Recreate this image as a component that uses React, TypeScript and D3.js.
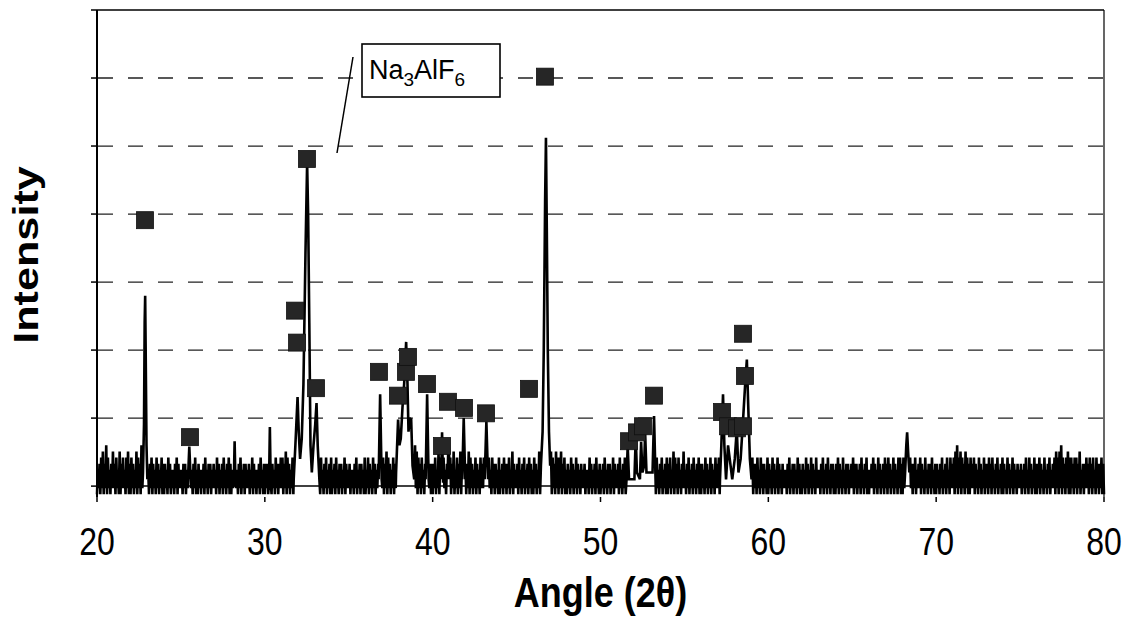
import React from 'react';
import * as d3 from 'd3';

const W = 1135;
const H = 623;

const xTicks = [20, 30, 40, 50, 60, 70, 80];
const yTicks = [0, 100, 200, 300, 400, 500, 600, 700];
const gridValues = [100, 200, 300, 400, 500, 600];

// background noise, one string per degree, 0.05 deg step, digit d -> -12 + 9d
const noiseStart = 20;
const noiseStep = 0.05;
const noiseRows = [
  '04150617051806140517', '15061407051614061705', '06150417061508140516', '14051605140615041605',
  '05140615041405160514', '14051504160514051604', '05140415061405150415', '14061504150614051605',
  '04150614051604150514', '15041605140415061405', '05150416051406150516', '16051706150416071506',
  '06170516071608170615', '17061506140516041506', '04150614051504160514', '15041405160415051406',
  '04160514061504150615', '16051706150416051704', '06170516071607160518', '17061506140516061505',
  '05160417061506140517', '16051704160517061405', '05170615041605140615', '16041506140615051406',
  '04150615051604170514', '15061405160415061504', '06150417061506170516', '17061507160617051604',
  '05140615041605140514', '15041406150415061405', '04150614051504160514', '15061405160415061405',
  '06170516071607160518', '16071506140516041506', '05160417061506140517', '14051604150614051605',
  '05140615041605140615', '16071605170615061706', '06170516061507160615', '16051506140615051406',
  '05140615041605140514', '14051604150514061504', '05140615041605140614', '14051604150614051504',
  '05160514061405150415', '16051504150614051604', '04151605140615041506', '15061504160514061605',
  '06171607061505160415', '16051406140515061405', '05140516041506140615', '16071806170615071605',
  '06151605140615041605', '15061506140516041506', '05140615041605140514', '15041506140615041605',
  '05160514061405160415', '16071607180615061706', '06150616051704150516', '15061506140615051605',
  '0',
];

// diffraction peaks: [angle, intensity] points
const peakProfiles: [number, number][][] = [
  [[22.74, 20], [22.8, 90], [22.84, 240], [22.87, 280], [22.9, 200], [22.95, 60], [23.0, 10]],
  [[25.42, 10], [25.5, 58], [25.58, 10]],
  [[28.15, 5], [28.2, 66], [28.25, 5]],
  [[30.25, 5], [30.3, 87], [30.35, 5]],
  [[31.72, 10], [31.82, 60], [31.95, 131], [32.02, 80], [32.1, 40], [32.2, 70], [32.3, 150], [32.42, 340],
   [32.52, 475], [32.58, 400], [32.65, 240], [32.72, 60], [32.8, 20], [32.9, 60], [33.0, 90], [33.08, 122],
   [33.15, 60], [33.25, 10]],
  [[36.78, 10], [36.87, 135], [36.96, 10]],
  [[37.82, 20], [37.94, 98], [38.02, 60], [38.1, 70], [38.2, 115], [38.3, 150], [38.42, 212], [38.5, 150],
   [38.56, 80], [38.64, 100], [38.72, 98], [38.8, 30], [38.9, 10]],
  [[39.58, 10], [39.67, 135], [39.76, 10]],
  [[40.5, 10], [40.56, 79], [40.62, 5]],
  [[40.88, 10], [40.95, 70], [41.02, 10]],
  [[41.76, 10], [41.85, 100], [41.94, 10]],
  [[43.1, 10], [43.2, 95], [43.3, 10]],
  [[46.45, 30], [46.55, 80], [46.62, 200], [46.7, 420], [46.75, 512], [46.8, 380], [46.86, 200],
   [46.93, 80], [47.0, 30]],
  [[51.55, 10], [51.62, 59], [51.7, 10], [52.02, 10], [52.1, 73], [52.17, 20], [52.35, 10], [52.42, 65],
   [52.5, 20], [52.6, 30], [52.66, 78], [52.74, 20], [53.1, 20], [53.19, 103], [53.28, 10]],
  [[57.12, 10], [57.2, 60], [57.3, 135], [57.38, 60], [57.48, 10], [57.6, 60], [57.7, 40], [57.85, 10],
   [58.0, 40], [58.12, 84], [58.22, 20], [58.35, 40], [58.5, 100], [58.62, 150], [58.72, 186],
   [58.8, 120], [58.9, 40], [59.0, 10]],
  [[68.15, 20], [68.22, 60], [68.27, 79], [68.33, 50], [68.4, 20]],
];

// reference markers (Na3AlF6 lines)
const markerAngles = [22.86, 25.54, 31.8, 31.92, 32.51, 33.05, 36.8, 37.93, 38.41, 38.53, 39.66, 40.56,
  40.91, 41.87, 43.18, 45.74, 46.69, 51.7, 52.17, 52.53, 53.19, 57.24, 57.6, 58.13, 58.49, 58.61, 58.49];
const markerValues = [391, 72, 258, 211, 481, 144, 168, 133, 168, 190, 150, 59,
  124, 115, 107, 143, 602, 66, 79, 88, 133, 109, 88, 85, 88, 162, 224];

const xLabel = 'Angle (2θ)';
const yLabel = 'Intensity';

function buildSeries(): [number, number][] {
  const digits = noiseRows.join('');
  const ranges = peakProfiles.map((p) => [p[0][0], p[p.length - 1][0]]);
  const pts: [number, number][] = [];
  for (let i = 0; i < digits.length; i++) {
    const a = noiseStart + i * noiseStep;
    const inside = ranges.some(([lo, hi]) => a >= lo - 1e-9 && a <= hi + 1e-9);
    if (!inside) pts.push([a, -12 + 9 * Number(digits[i])]);
  }
  peakProfiles.forEach((p) => p.forEach((q) => pts.push(q)));
  pts.sort((a, b) => a[0] - b[0]);
  return pts;
}

export default function App() {
  const x = d3.scaleLinear().domain([20, 80]).range([97, 1104]);
  const y = d3.scaleLinear().domain([-16, 700]).range([497, 10]);
  const series = buildSeries();
  const line = d3.line<[number, number]>().x((d) => x(d[0])).y((d) => y(d[1]));
  const ms = 17;
  const font = 'Arial, "Liberation Sans", sans-serif';
  const sy = 1.2;

  return (
    <svg width={W} height={H} style={{ position: 'absolute', left: 0, top: 0, background: '#fff' }}
      fontFamily={font}>
      <rect x={0} y={0} width={W} height={H} fill="#fff" />
      {gridValues.map((v) => (
        <line key={v} x1={x(20) + 1} x2={x(80)} y1={y(v)} y2={y(v)} stroke="#222" strokeWidth={1.3}
          strokeDasharray="15 15" />
      ))}
      {/* plot frame */}
      <line x1={x(20)} x2={x(80)} y1={y(700)} y2={y(700)} stroke="#000" strokeWidth={1.5} />
      <line x1={x(80)} x2={x(80)} y1={y(700)} y2={y(-16)} stroke="#000" strokeWidth={1.2} />
      <line x1={x(20)} x2={x(80)} y1={y(0)} y2={y(0)} stroke="#000" strokeWidth={1.5} />
      <path d={line(series) || ''} fill="none" stroke="#000" strokeWidth={2.6} strokeLinejoin="miter"
        strokeMiterlimit={2} />
      {markerAngles.map((a, i) => (
        <rect key={i} x={x(a) - ms / 2} y={y(markerValues[i]) - ms / 2} width={ms} height={ms}
          fill="#262626" stroke="#111" strokeWidth={0.8} />
      ))}
      {/* left axis */}
      <line x1={x(20)} x2={x(20)} y1={y(700)} y2={y(-16)} stroke="#000" strokeWidth={2} />
      {yTicks.map((t) => (
        <line key={t} x1={x(20) - 6} x2={x(20)} y1={y(t)} y2={y(t)} stroke="#000" strokeWidth={1.5} />
      ))}
      {xTicks.map((t) => (
        <g key={t}>
          <line x1={x(t)} x2={x(t)} y1={y(-16)} y2={y(-16) + 5} stroke="#000" strokeWidth={1.5} />
          <text transform={`translate(${x(t)},555) scale(1,${sy})`} textAnchor="middle" fontSize={32}
            fill="#000">{t}</text>
        </g>
      ))}
      <text transform={`translate(${(x(20) + x(80)) / 2},607) scale(1,${sy})`} textAnchor="middle"
        fontSize={36} fontWeight="bold">{xLabel}</text>
      <text transform={`translate(38,255) scale(1,${sy}) rotate(-90)`} textAnchor="middle" fontSize={36}
        fontWeight="bold">{yLabel}</text>
      {/* annotation */}
      <line x1={353} y1={57} x2={337} y2={153} stroke="#000" strokeWidth={1.5} />
      <rect x={362} y={44} width={138} height={53} fill="#fff" stroke="#000" strokeWidth={1.6} />
      <text x={369} y={79} fontSize={27} fill="#000">
        Na<tspan fontSize={19} dy={7}>3</tspan><tspan dy={-7}>AlF</tspan><tspan fontSize={19} dy={7}>6</tspan>
      </text>
    </svg>
  );
}
